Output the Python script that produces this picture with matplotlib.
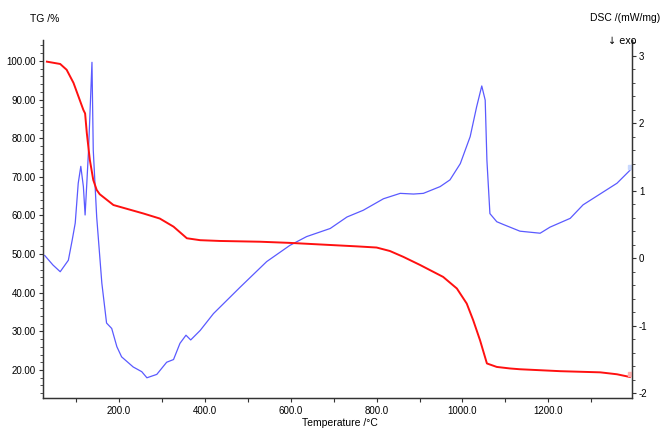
import matplotlib
matplotlib.use("Agg")
import matplotlib.pyplot as plt
import matplotlib.ticker as mticker

plt.rcParams['font.family'] = ['Liberation Sans', 'DejaVu Sans']
plt.rcParams['font.size'] = 7

# TG curve (left axis, %)
tg_temp = [32, 63, 78, 94, 117, 121, 125, 132, 140, 148, 155, 187, 257, 295, 327,
           358, 389, 435, 529, 598, 754, 800, 831, 862, 901, 955, 987, 1010, 1025,
           1041, 1057, 1080, 1111, 1134, 1228, 1321, 1360, 1390]
tg_vals = [99.8, 99.2, 97.7, 94.3, 87.3, 86.4, 81.3, 74.4, 69.2, 66.6, 65.5, 62.7,
           60.5, 59.2, 57.1, 54.1, 53.6, 53.4, 53.2, 52.9, 52.0, 51.7, 50.8, 49.3,
           47.2, 44.1, 41.1, 37.2, 32.9, 27.7, 21.7, 20.8, 20.4, 20.2, 19.7, 19.4,
           18.9, 18.2]

# DSC curve (right axis, mW/mg)
dsc_temp = [27, 46, 63, 82, 91, 98, 105, 111, 117, 121, 125, 129, 137, 140, 148,
            160, 171, 183, 195, 206, 233, 253, 265, 288, 311, 327, 342, 356, 367,
            389, 420, 482, 544, 598, 637, 692, 731, 769, 816, 855, 886, 909, 948,
            971, 995, 1018, 1033, 1045, 1053, 1057, 1064, 1080, 1095, 1134, 1181,
            1204, 1251, 1281, 1360, 1390]
dsc_vals = [0.04, -0.10, -0.20, -0.03, 0.27, 0.52, 1.11, 1.36, 1.06, 0.64, 1.11,
            1.60, 2.90, 1.60, 0.61, -0.37, -0.96, -1.04, -1.31, -1.46, -1.61, -1.68,
            -1.77, -1.72, -1.54, -1.50, -1.26, -1.14, -1.21, -1.07, -0.82, -0.43,
            -0.05, 0.19, 0.32, 0.44, 0.61, 0.71, 0.88, 0.96, 0.95, 0.96, 1.06, 1.16,
            1.40, 1.80, 2.24, 2.55, 2.34, 1.45, 0.66, 0.54, 0.50, 0.40, 0.37, 0.46,
            0.59, 0.79, 1.11, 1.30]

fig = plt.figure(figsize=(6.62, 4.28), dpi=100)
ax = fig.add_axes([0.065, 0.070, 0.8897, 0.8365])
ax2 = ax.twinx()

ax2.plot(dsc_temp, dsc_vals, color='#5a5aff', lw=0.9)
ax2.plot([dsc_temp[-1]], [dsc_vals[-1] + 0.05], marker='s', ms=3, color='#c8d8ff', mec='#c8d8ff')
ax.plot(tg_temp, tg_vals, color='#ff1010', lw=1.4)
ax.plot([tg_temp[-1]], [tg_vals[-1] + 0.8], marker='s', ms=3.5, color='#ffb0b0', mec='#ffb0b0')

ax.set_zorder(ax2.get_zorder() + 1)
ax.patch.set_visible(False)

ax.set_xlim(23, 1395)
ax.set_ylim(12.75, 105.4)
ax2.set_ylim(-2.07, 3.23)

for a in (ax, ax2):
    a.spines['top'].set_visible(False)
    for s in a.spines.values():
        s.set_color('#333333')
        s.set_linewidth(0.9)

ax.xaxis.set_major_locator(mticker.MultipleLocator(200))
ax.xaxis.set_minor_locator(mticker.MultipleLocator(100))
ax.xaxis.set_major_formatter(mticker.FormatStrFormatter('%.1f'))
ax.yaxis.set_major_locator(mticker.MultipleLocator(10))
ax.yaxis.set_minor_locator(mticker.MultipleLocator(2))
ax.yaxis.set_major_formatter(mticker.FormatStrFormatter('%.2f'))
ax2.yaxis.set_major_locator(mticker.MultipleLocator(1))
ax2.yaxis.set_minor_locator(mticker.MultipleLocator(0.2))
ax2.yaxis.set_major_formatter(mticker.FormatStrFormatter('%d'))

ax.tick_params(axis='x', which='both', direction='out', length=3, width=0.8, pad=3, colors='#333333', labelcolor='black')
ax.tick_params(axis='y', which='major', direction='out', length=3, width=0.8, pad=2, colors='#333333', labelcolor='black')
ax.tick_params(axis='y', which='minor', direction='out', length=2, width=0.6, colors='#333333')
ax2.tick_params(axis='y', which='major', direction='out', length=3, width=0.8, pad=2, colors='#333333', labelcolor='black')
ax2.tick_params(axis='y', which='minor', direction='out', length=2, width=0.6, colors='#333333')

fig.text(0.045, 0.955, 'TG /%', ha='left', va='center', fontsize=7.5)
fig.text(0.998, 0.957, 'DSC /(mW/mg)', ha='right', va='center', fontsize=7.5)
fig.text(0.918, 0.905, '\u2193 exo', ha='left', va='center', fontsize=7, family=['DejaVu Sans'])
fig.text(0.513, 0.012, 'Temperature /\u00b0C', ha='center', va='center', fontsize=7.5)

fig.savefig('out.png', dpi=100)
